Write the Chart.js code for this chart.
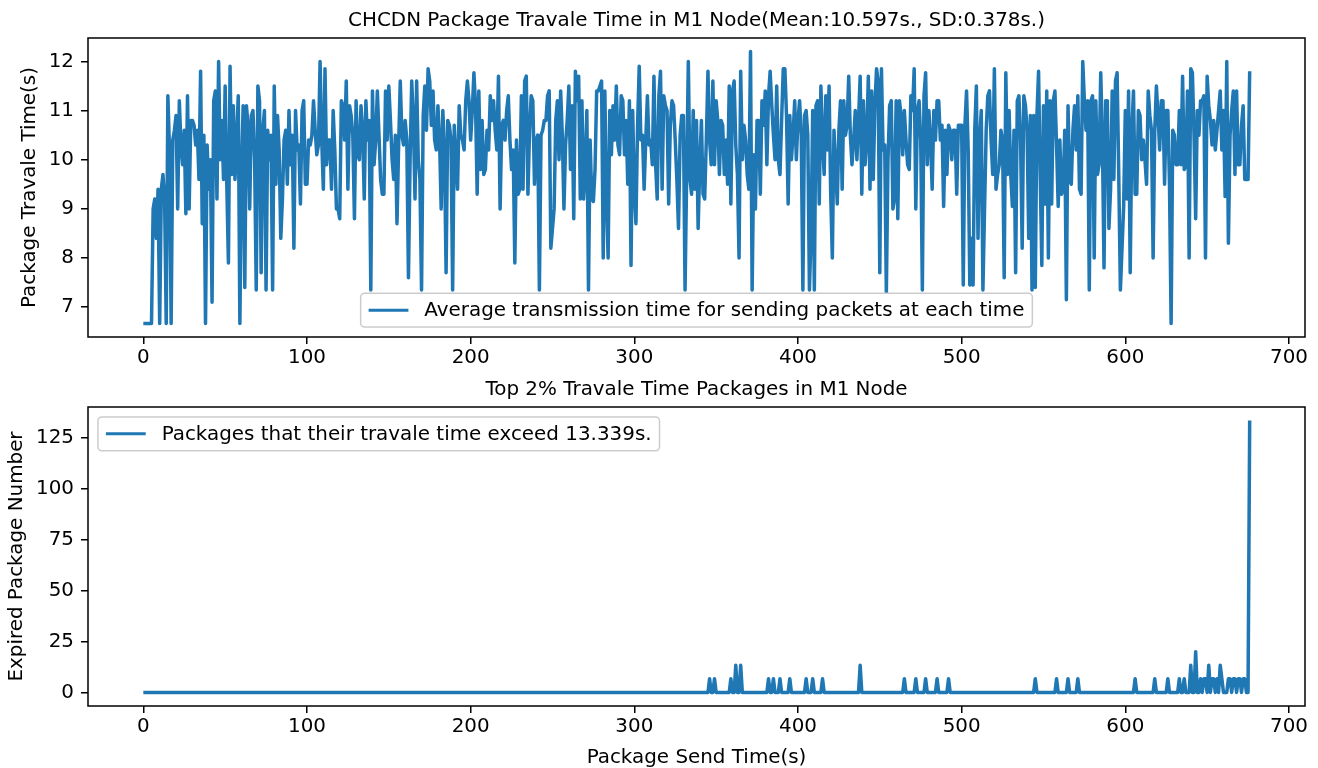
<!DOCTYPE html>
<html><head><meta charset="utf-8">
<script src="https://cdn.jsdelivr.net/npm/chart.js@4.4.1/dist/chart.umd.min.js"></script>
<style>
html,body{margin:0;padding:0;background:#fff;}
#wrap{position:relative;width:1318px;height:768px;overflow:hidden;background:#fff;}
canvas{position:absolute;left:0;}
</style></head><body>
<div id="wrap">
<canvas id="c1" width="1318" height="372" style="top:0;width:1318px;height:372px"></canvas>
<canvas id="c2" width="1318" height="396" style="top:372px;width:1318px;height:396px"></canvas>
</div>
<script>
// ---- data ----
const travelTime = [
6.67,6.67,6.67,6.67,6.67,6.67,9.0,9.2,8.4,9.4,
6.67,9.4,9.7,9.2,6.67,11.3,10.2,6.67,10.4,10.6,
10.9,9.0,11.2,10.3,9.9,10.6,8.9,11.3,9.0,10.8,
10.8,10.7,10.3,10.6,9.6,11.8,8.7,10.5,6.67,10.3,
9.4,10.0,7.1,11.2,11.4,9.2,12.0,10.0,10.8,9.6,
11.5,9.5,7.9,11.9,9.7,11.1,9.6,10.4,11.3,6.67,
9.8,11.1,7.4,11.1,10.7,9.0,10.9,11.0,10.0,7.35,
11.5,11.2,7.7,10.6,11.0,7.35,10.6,10.0,10.5,7.35,
11.5,9.5,10.9,10.2,8.4,9.2,10.4,10.6,9.5,11.0,
9.9,10.5,8.2,11.0,10.2,10.3,9.1,11.0,11.2,9.5,
9.5,10.4,10.3,10.5,11.2,10.6,10.1,10.3,12.0,10.4,
9.4,11.85,9.9,10.4,10.4,9.4,11.0,10.2,9.0,9.0,
8.8,11.2,11.1,10.4,11.6,9.4,11.1,10.9,10.5,8.8,
11.2,10.1,10.0,11.1,10.6,9.2,11.2,10.4,10.8,7.35,
11.4,9.9,10.4,11.4,10.5,9.6,9.3,9.3,11.4,10.4,
11.5,10.8,10.0,9.6,10.5,8.7,10.3,11.6,10.5,10.3,
10.8,10.4,7.6,10.0,11.6,10.8,9.2,11.6,10.0,9.6,
7.35,10.9,11.5,10.6,11.85,11.6,10.7,11.4,10.4,10.2,
11.1,10.4,9.0,11.0,10.2,7.7,10.8,10.7,10.4,7.35,
10.7,10.0,9.4,11.1,10.5,10.4,10.2,11.2,11.6,11.2,
10.4,11.0,11.77,11.1,9.3,11.4,9.8,10.8,9.7,9.8,
10.6,10.2,11.3,10.8,11.2,10.6,10.2,11.7,9.0,10.7,
10.8,10.4,11.0,11.3,10.4,9.8,10.2,7.9,10.4,9.3,
9.4,11.3,9.4,11.6,11.7,9.3,10.6,11.3,11.2,9.5,
10.4,10.5,7.35,10.5,10.6,10.8,10.8,11.3,11.4,8.2,
8.6,9.0,10.8,11.2,10.0,11.4,10.5,9.0,10.3,10.8,
11.5,9.8,11.1,8.8,11.8,11.2,11.7,9.2,11.2,9.2,
9.8,11.0,7.35,10.4,9.2,9.15,9.8,11.4,11.4,11.5,
11.6,8.0,11.4,9.2,8.0,11.0,10.1,11.1,10.4,11.5,
10.3,10.1,11.3,11.2,10.1,10.8,9.5,11.2,7.85,11.0,
9.4,8.7,10.7,11.9,10.4,10.5,9.4,10.4,11.3,10.3,
10.4,9.9,11.7,9.9,9.2,11.3,11.8,9.4,11.3,11.1,
11.0,9.1,10.7,11.2,11.1,10.4,9.6,8.6,10.5,10.9,
10.9,7.35,9.7,12.0,9.6,9.3,11.0,9.4,10.8,8.6,
9.9,10.8,9.3,9.2,10.4,11.8,10.4,9.9,11.6,9.9,
11.2,10.8,9.7,10.8,10.7,9.7,10.4,9.5,11.5,9.1,
11.4,11.6,10.3,9.7,8.0,11.8,10.0,10.7,10.4,9.7,
9.4,12.2,7.35,10.1,9.0,10.8,10.8,9.3,11.2,10.7,
11.4,9.9,11.3,11.8,11.1,10.5,10.0,11.5,10.0,9.7,
10.8,11.85,11.85,10.9,9.1,10.9,10.0,10.5,11.2,10.0,
10.8,11.2,10.5,7.35,10.9,11.0,10.5,7.35,8.5,11.0,
7.35,11.1,11.2,9.1,11.5,10.4,9.7,11.3,10.2,11.5,
9.3,8.0,10.6,9.9,9.1,10.6,11.2,9.4,11.2,10.5,
10.7,11.7,10.5,9.9,10.4,11.0,10.0,10.8,11.7,9.3,
11.2,9.9,10.4,11.7,9.4,11.4,9.6,11.1,11.85,11.6,
7.7,11.85,10.2,10.3,7.3,10.0,11.1,11.2,9.0,9.2,
11.2,8.8,11.2,10.9,10.1,11.0,10.4,9.9,9.8,11.3,
11.0,11.85,9.0,11.0,11.2,10.4,7.35,11.3,11.77,9.9,
11.0,10.4,9.4,11.0,10.4,11.2,11.2,10.4,10.7,9.05,
10.6,9.7,10.7,10.6,10.0,10.6,10.6,9.3,10.7,10.7,
10.7,7.45,10.7,11.4,10.2,7.45,8.4,7.45,10.6,11.5,
8.4,10.4,11.0,7.35,9.0,10.6,11.3,11.4,10.4,9.7,
11.85,9.4,9.7,9.9,10.6,10.4,7.6,11.77,9.7,11.0,
9.7,9.05,10.6,7.7,11.2,11.3,10.4,8.2,11.3,11.1,
10.6,8.4,10.9,7.35,10.9,7.4,10.9,11.8,9.7,7.85,
11.1,9.1,11.4,8.0,11.2,9.1,11.2,11.4,10.3,9.05,
10.4,9.3,9.4,10.6,7.15,11.1,9.6,9.5,10.6,11.1,
10.2,11.3,9.4,9.3,12.0,11.2,10.6,11.2,7.35,11.2,
11.3,8.0,11.2,9.7,9.9,11.77,10.4,7.8,11.2,11.2,
8.6,9.4,11.4,9.6,11.6,11.77,9.7,7.35,8.2,9.05,
11.0,9.2,11.4,7.7,10.6,11.4,9.3,9.3,11.0,10.9,
10.0,10.4,10.0,9.5,11.4,10.9,10.6,8.0,10.6,11.5,
10.9,10.2,11.2,11.2,9.5,11.0,11.0,9.5,6.67,10.6,
10.5,9.9,9.9,11.0,9.9,11.7,9.8,9.9,11.4,8.0,
11.85,11.77,10.5,8.8,11.0,10.5,11.2,11.2,11.3,8.0,
11.7,11.1,10.8,10.3,10.8,10.2,10.6,11.0,11.4,10.2,
11.0,9.25,12.0,8.3,10.5,11.0,11.4,9.7,11.4,9.9,
9.9,10.7,11.1,9.6,9.6,9.6,11.8
];
const spikeTimes  = [346,349,359,362,365,382,385,389,395,405,409,415,438,465,472,478,485,492,545,558,565,571,606,618,626,633,636,640,643,646,648,649,651,653,654,656,658,659,663,664,666,667,669,670,672,673,676];
const spikeCounts = [6.67,6.67,6.67,13.33,13.33,6.67,6.67,6.67,6.67,6.67,6.67,6.67,13.33,6.67,6.67,6.67,6.67,6.67,6.67,6.67,6.67,6.67,6.67,6.67,6.67,6.67,6.67,13.33,20,6.67,6.67,6.67,13.33,6.67,6.67,6.67,13.33,6.67,6.67,6.67,6.67,6.67,6.67,6.67,6.67,6.67,133.33];
const xTickValues = [0,100,200,300,400,500,600,700];
const topYTickValues = [7,8,9,10,11,12];
const bottomYTickValues = [0,25,50,75,100,125];

const topTitle = 'CHCDN Package Travale Time in M1 Node(Mean:10.597s., SD:0.378s.)';
const bottomTitle = 'Top 2% Travale Time Packages in M1 Node';
const topLegend = 'Average transmission time for sending packets at each time';
const bottomLegend = 'Packages that their travale time exceed 13.339s.';
const topYLabel = 'Package Travale Time(s)';
const bottomYLabel = 'Expired Package Number';
const xLabel = 'Package Send Time(s)';

// ---- build series ----
const sendTimes = travelTime.map((_, i) => i);
const expired = sendTimes.map(() => 0);
spikeTimes.forEach((t, k) => { expired[t] = spikeCounts[k]; });

// ---- styling ----
const FS = 19.9;
const LW = 3.5;
const BLUE = '#1f77b4';
const FONT = "'DejaVu Sans', sans-serif";
Chart.defaults.font.family = FONT;
Chart.defaults.font.size = FS;
Chart.defaults.color = '#000';

function framePlugin(title, legendText, loc) {
  return {
    id: 'frame',
    afterDatasetsDraw(chart) {
      const ctx = chart.ctx, a = chart.chartArea;
      ctx.save();
      ctx.strokeStyle = '#000';
      ctx.lineWidth = 1.5;
      ctx.strokeRect(a.left, a.top, a.right - a.left, a.bottom - a.top);
      // title
      ctx.font = FS + 'px ' + FONT;
      ctx.fillStyle = '#000';
      ctx.textAlign = 'center';
      ctx.textBaseline = 'alphabetic';
      ctx.fillText(title, (a.left + a.right) / 2, a.top - 0.6 * FS);
      // legend
      const tw = ctx.measureText(legendText).width;
      const bw = 3.6 * FS + tw, bh = 1.7 * FS;
      let bx, by;
      if (loc === 'lower center') {
        bx = (a.left + a.right) / 2 - bw / 2;
        by = a.bottom - 0.5 * FS - bh;
      } else {
        bx = a.left + 0.5 * FS;
        by = a.top + 0.5 * FS;
      }
      const r = 0.2 * FS;
      ctx.beginPath();
      ctx.moveTo(bx + r, by);
      ctx.lineTo(bx + bw - r, by);
      ctx.arcTo(bx + bw, by, bx + bw, by + r, r);
      ctx.lineTo(bx + bw, by + bh - r);
      ctx.arcTo(bx + bw, by + bh, bx + bw - r, by + bh, r);
      ctx.lineTo(bx + r, by + bh);
      ctx.arcTo(bx, by + bh, bx, by + bh - r, r);
      ctx.lineTo(bx, by + r);
      ctx.arcTo(bx, by, bx + r, by, r);
      ctx.closePath();
      ctx.fillStyle = 'rgba(255,255,255,0.8)';
      ctx.fill();
      ctx.strokeStyle = '#cccccc';
      ctx.lineWidth = 1.5;
      ctx.stroke();
      const cy = by + bh / 2;
      ctx.strokeStyle = BLUE;
      ctx.lineWidth = 3.0;
      ctx.beginPath();
      ctx.moveTo(bx + 0.4 * FS, cy);
      ctx.lineTo(bx + 2.4 * FS, cy);
      ctx.stroke();
      ctx.fillStyle = '#000';
      ctx.textAlign = 'left';
      ctx.textBaseline = 'middle';
      ctx.fillText(legendText, bx + 3.2 * FS, cy + 1);
      ctx.restore();
    }
  };
}

function makeChart(id, ys, cfg) {
  const grid = { drawOnChartArea: false, drawTicks: true, tickLength: 7, color: '#000', lineWidth: 1.5 };
  return new Chart(document.getElementById(id), {
    type: 'line',
    data: {
      datasets: [{
        data: sendTimes.map((x, i) => ({ x: x, y: ys[i] })),
        borderColor: BLUE, borderWidth: LW, pointRadius: 0, tension: 0,
        fill: false, borderJoinStyle: 'round', borderCapStyle: 'butt'
      }]
    },
    options: {
      responsive: false, animation: false, devicePixelRatio: 1,
      layout: { padding: { top: cfg.top, right: 13, left: 0, bottom: 0 } },
      plugins: { legend: { display: false }, tooltip: { enabled: false }, title: { display: false } },
      scales: {
        x: {
          type: 'linear', min: -33.8, max: 709.8,
          afterBuildTicks: s => { s.ticks = xTickValues.map(v => ({ value: v })); },
          afterFit: s => { s.height = cfg.xh; s.paddingLeft = 0; s.paddingRight = 0; },
          ticks: { padding: 1.5, color: '#000', font: { size: FS }, maxRotation: 0, autoSkip: false },
          grid: grid, border: { display: false },
          title: cfg.xTitle ? { display: true, text: cfg.xTitle, color: '#000', font: { size: FS }, padding: { top: 0, bottom: -2 } } : { display: false }
        },
        y: {
          type: 'linear', min: cfg.ymin, max: cfg.ymax,
          afterBuildTicks: s => { s.ticks = cfg.yticks.map(v => ({ value: v })); },
          afterFit: s => { s.width = 88; s.paddingTop = 0; s.paddingBottom = 0; },
          ticks: { padding: 7, color: '#000', font: { size: FS }, autoSkip: false },
          grid: grid, border: { display: false },
          title: { display: true, text: cfg.yTitle, color: '#000', font: { size: FS }, padding: { top: cfg.ytp, bottom: 0 } }
        }
      }
    },
    plugins: [framePlugin(cfg.title, cfg.legend, cfg.loc)]
  });
}

makeChart('c1', travelTime, {
  top: 38, xh: 35, ymin: 6.3935, ymax: 12.4765, yticks: topYTickValues,
  yTitle: topYLabel, ytp: 18, title: topTitle, legend: topLegend, loc: 'lower center'
});
makeChart('c2', expired, {
  top: 35, xh: 62, ymin: -6.667, ymax: 140.0, yticks: bottomYTickValues,
  yTitle: bottomYLabel, ytp: 5, xTitle: xLabel, title: bottomTitle, legend: bottomLegend, loc: 'upper left'
});
</script>
</body></html>
